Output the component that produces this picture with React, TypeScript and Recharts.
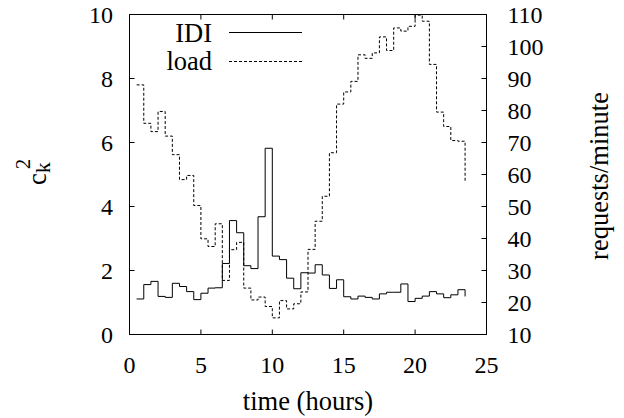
import React from 'react';
import { LineChart, Line, XAxis, YAxis } from 'recharts';

const hours: number[] = [
  0.5, 1, 1.5, 2, 2.5, 3, 3.5, 4, 4.5, 5, 5.5, 6, 6.5, 7, 7.5, 8, 8.5, 9, 9.5, 10,
  10.5, 11, 11.5, 12, 12.5, 13, 13.5, 14, 14.5, 15, 15.5, 16, 16.5, 17, 17.5, 18,
  18.5, 19, 19.5, 20, 20.5, 21, 21.5, 22, 22.5, 23, 23.5,
];

const idi: number[] = [
  1.11, 1.56, 1.66, 1.19, 1.16, 1.6, 1.5, 1.34, 1.09, 1.29, 1.45, 1.46, 2.22, 3.56, 3.18,
  2.15, 2.06, 3.68, 5.82, 2.45, 2.34, 1.76, 1.43, 1.93, 1.92, 2.18, 1.86, 1.44, 1.71, 1.18,
  1.11, 1.2, 1.16, 1.11, 1.27, 1.32, 1.32, 1.58, 1.03, 1.13, 1.2, 1.34, 1.27, 1.15, 1.24,
  1.4, 1.19,
];

const load: number[] = [
  88.0, 76.0, 73.4, 79.7, 72.0, 66.2, 58.4, 59.7, 50.3, 39.9, 37.5, 44.6, 26.9, 36.5, 38.8,
  24.5, 20.8, 21.7, 18.75, 15.2, 20.6, 18.0, 19.6, 23.3, 36.6, 45.4, 53.2, 66.8, 82.0, 85.8,
  89.1, 97.4, 96.3, 98.0, 103.0, 98.75, 105.8, 104.8, 106.3, 109.8, 107.9, 94.4, 79.5, 75.0,
  70.6, 70.4, 58.0,
];

const xTicks: number[] = [0, 5, 10, 15, 20, 25];
const leftTicks: number[] = [0, 2, 4, 6, 8, 10];
const rightTicks: number[] = [10, 20, 30, 40, 50, 60, 70, 80, 90, 100, 110];

const data = hours.map((t, i) => ({ t, idi: idi[i], load: load[i] }));

const FONT = '"Liberation Serif", "Times New Roman", serif';
const FS = 24;
const TFS = 26.5;
const TICK = 5;

const LeftTick = (props: any) => {
  const { x, y, payload } = props;
  return (
    <g>
      <line x1={x} x2={x + TICK} y1={y} y2={y} stroke="#000" strokeWidth={1} />
      <text x={x - 16.5} y={y} textAnchor="end" dominantBaseline="central" fontFamily={FONT} fontSize={FS} fill="#000">
        {payload.value}
      </text>
    </g>
  );
};

const RightTick = (props: any) => {
  const { x, y, payload } = props;
  return (
    <g>
      <line x1={x} x2={x - TICK} y1={y} y2={y} stroke="#000" strokeWidth={1} />
      <text x={x + 21} y={y} textAnchor="start" dominantBaseline="central" fontFamily={FONT} fontSize={FS} fill="#000">
        {payload.value}
      </text>
    </g>
  );
};

const BottomTick = (props: any) => {
  const { x, y, payload } = props;
  return (
    <g>
      <line x1={x} x2={x} y1={y} y2={y - TICK} stroke="#000" strokeWidth={1} />
      <text x={x} y={y + 30} textAnchor="middle" dominantBaseline="central" fontFamily={FONT} fontSize={FS} fill="#000">
        {payload.value}
      </text>
    </g>
  );
};

const TopTick = (props: any) => {
  const { x, y } = props;
  return (
    <g>
      <line x1={x} x2={x} y1={y} y2={y + TICK} stroke="#000" strokeWidth={1} />
    </g>
  );
};

export default function App() {
  return (
    <div style={{ position: 'absolute', left: 0, top: 0, width: 624, height: 418, background: '#fff' }}>
      <LineChart width={624} height={418} data={data} margin={{ top: 0, right: 0, bottom: 0, left: 0 }}>
        <XAxis
          xAxisId="bottom"
          dataKey="t"
          type="number"
          domain={[0, 25]}
          ticks={xTicks}
          height={83.5}
          axisLine={{ stroke: '#000', strokeWidth: 1 }}
          tickLine={false}
          tickSize={0}
          tickMargin={0}
          tick={<BottomTick />}
          interval={0}
        />
        <XAxis
          xAxisId="top"
          orientation="top"
          dataKey="t"
          type="number"
          domain={[0, 25]}
          ticks={xTicks}
          height={14.5}
          axisLine={{ stroke: '#000', strokeWidth: 1 }}
          tickLine={false}
          tickSize={0}
          tickMargin={0}
          tick={<TopTick />}
          interval={0}
        />
        <YAxis
          yAxisId="left"
          domain={[0, 10]}
          ticks={leftTicks}
          width={129.5}
          axisLine={{ stroke: '#000', strokeWidth: 1 }}
          tickLine={false}
          tickSize={0}
          tickMargin={0}
          tick={<LeftTick />}
          interval={0}
        />
        <YAxis
          yAxisId="right"
          orientation="right"
          domain={[10, 110]}
          ticks={rightTicks}
          width={137.5}
          axisLine={{ stroke: '#000', strokeWidth: 1 }}
          tickLine={false}
          tickSize={0}
          tickMargin={0}
          tick={<RightTick />}
          interval={0}
        />
        <Line
          xAxisId="bottom"
          yAxisId="left"
          dataKey="idi"
          type="stepAfter"
          stroke="#000"
          strokeWidth={1}
          dot={false}
          activeDot={false}
          isAnimationActive={false}
        />
        <Line
          xAxisId="bottom"
          yAxisId="right"
          dataKey="load"
          type="stepAfter"
          stroke="#000"
          strokeWidth={1}
          strokeDasharray="3 2"
          dot={false}
          activeDot={false}
          isAnimationActive={false}
        />
        <g>
          <text x={212} y={33} textAnchor="end" dominantBaseline="central" fontFamily={FONT} fontSize={TFS} fill="#000">IDI</text>
          <line x1={229} x2={302} y1={32.5} y2={32.5} stroke="#000" strokeWidth={1} />
          <text x={212} y={61} textAnchor="end" dominantBaseline="central" fontFamily={FONT} fontSize={TFS} fill="#000">load</text>
          <line x1={229} x2={302} y1={61.5} y2={61.5} stroke="#000" strokeWidth={1} strokeDasharray="3 2" />
          <text x={308} y={401} textAnchor="middle" dominantBaseline="central" fontFamily={FONT} fontSize={TFS} fill="#000">time (hours)</text>
          <text transform="translate(599,176) rotate(-90)" textAnchor="middle" dominantBaseline="central" fontFamily={FONT} fontSize={TFS} fill="#000">requests/minute</text>
          <text transform="translate(46,185) rotate(-90)" textAnchor="start" fontFamily={FONT} fontSize={TFS} fill="#000">
            c<tspan fontSize={22} dy={4}>k</tspan><tspan fontSize={21} dx={-7} dy={-20}>2</tspan>
          </text>
        </g>
      </LineChart>
    </div>
  );
}
